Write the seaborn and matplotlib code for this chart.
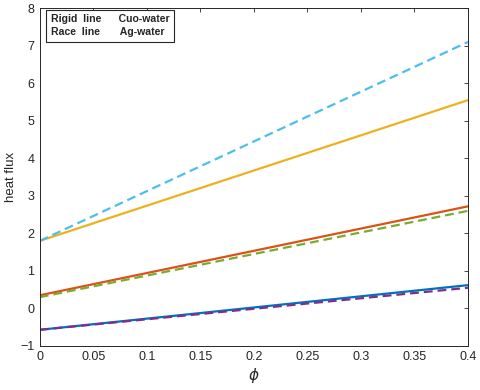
import matplotlib
matplotlib.use("Agg")
import matplotlib.pyplot as plt
import seaborn as sns
import pandas as pd

# volume fraction
phi = [0.0, 0.4]

# heat flux (endpoints of each straight line)
blue_solid = [-0.57, 0.62]
purple_dashed = [-0.57, 0.55]
red_solid = [0.35, 2.72]
green_dashed = [0.30, 2.60]
yellow_solid = [1.80, 5.55]
cyan_dashed = [1.80, 7.10]

series = [
    (blue_solid, "#0072BD", "-"),
    (purple_dashed, "#7E2F8E", "--"),
    (red_solid, "#D95319", "-"),
    (green_dashed, "#77AC30", "--"),
    (yellow_solid, "#EDB120", "-"),
    (cyan_dashed, "#4DBEEE", "--"),
]

sns.set_style("white")
plt.rcParams["font.family"] = ["Liberation Sans", "DejaVu Sans"]

fig = plt.figure(figsize=(4.8, 3.9), dpi=100)
ax = fig.add_axes([0.083, 0.113, 0.892, 0.866])

for vals, color, ls in series:
    df = pd.DataFrame({"phi": phi, "q": vals})
    line = sns.lineplot(data=df, x="phi", y="q", ax=ax, color=color, linewidth=1.6).lines[-1]
    if ls == "--":
        line.set_dashes((4, 2.2))

ax.set_xlim(0, 0.4)
ax.set_ylim(-1, 8)
ax.set_xticks([0, 0.05, 0.1, 0.15, 0.2, 0.25, 0.3, 0.35, 0.4])
ax.set_xticklabels(["0", "0.05", "0.1", "0.15", "0.2", "0.25", "0.3", "0.35", "0.4"])
ax.set_yticks(range(-1, 9))
ax.tick_params(direction="in", top=True, right=True, length=3, width=0.6,
               color="#262626", labelsize=9, labelcolor="#262626", pad=4)
for s in ax.spines.values():
    s.set_color("#262626")
    s.set_linewidth(0.7)

ax.set_xlabel(r"$\phi$", fontsize=11, labelpad=2)
ax.set_ylabel("heat flux", fontsize=9.5, labelpad=2)

ax.text(0.025, 0.982, "Rigid  line      Cuo-water\nRace  line       Ag-water",
        transform=ax.transAxes, fontsize=7.6, fontweight="bold", va="top", ha="left",
        linespacing=1.4,
        bbox=dict(boxstyle="square,pad=0.45", facecolor="white", edgecolor="#262626", linewidth=0.8))

fig.savefig("out.png", dpi=100)
